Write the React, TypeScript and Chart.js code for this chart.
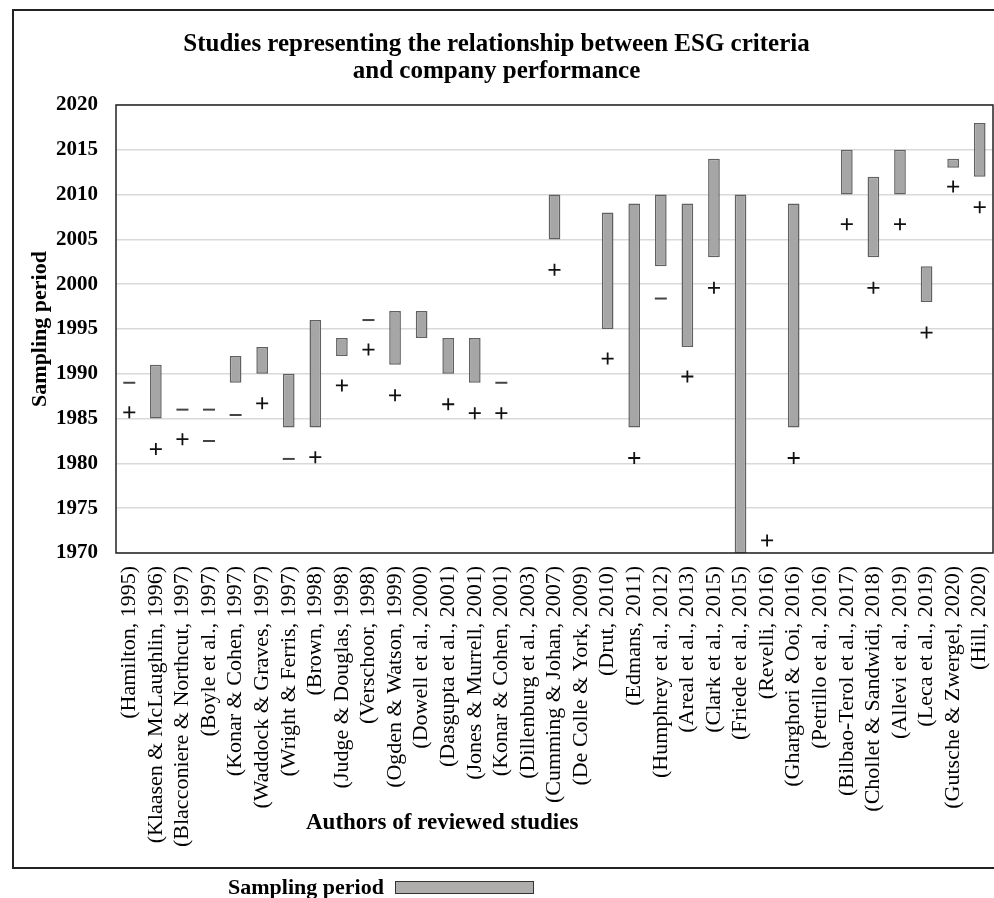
import { useEffect, useRef } from "react";
import { Chart, registerables } from "chart.js";

Chart.register(...registerables);

const SERIF = "'Liberation Serif', 'Times New Roman', serif";

const authors = [
  "(Hamilton, 1995)",
  "(Klaasen & McLaughlin, 1996)",
  "(Blacconiere & Northcut, 1997)",
  "(Boyle et al., 1997)",
  "(Konar & Cohen, 1997)",
  "(Waddock & Graves, 1997)",
  "(Wright & Ferris, 1997)",
  "(Brown, 1998)",
  "(Judge & Douglas, 1998)",
  "(Verschoor, 1998)",
  "(Ogden & Watson, 1999)",
  "(Dowell et al., 2000)",
  "(Dasgupta et al., 2001)",
  "(Jones & Murrell, 2001)",
  "(Konar & Cohen, 2001)",
  "(Dillenburg et al., 2003)",
  "(Cumming & Johan, 2007)",
  "(De Colle & York, 2009)",
  "(Drut, 2010)",
  "(Edmans, 2011)",
  "(Humphrey et al., 2012)",
  "(Areal et al., 2013)",
  "(Clark et al., 2015)",
  "(Friede et al., 2015)",
  "(Revelli, 2016)",
  "(Gharghori & Ooi, 2016)",
  "(Petrillo et al., 2016)",
  "(Bilbao-Terol et al., 2017)",
  "(Chollet & Sandwidi, 2018)",
  "(Allevi et al., 2019)",
  "(Leca et al., 2019)",
  "(Gutsche & Zwergel, 2020)",
  "(Hill, 2020)",
];

// sampling period (first and last year), null = not reported
const periodStart = [null, 1985, null, null, 1989, 1990, 1984, 1984, 1992, null, 1991, 1994, 1990, 1989, null, null, 2005, null, 1995, 1984, 2002, 1993, 2003, 1970, null, 1984, null, 2010, 2003, 2010, 1998, 2013, 2012];
const periodEnd = [null, 1991, null, null, 1992, 1993, 1990, 1996, 1994, null, 1997, 1997, 1994, 1994, null, null, 2010, null, 2008, 2009, 2010, 2009, 2014, 2010, null, 2009, null, 2015, 2012, 2015, 2002, 2014, 2018];

// "+" / "–" result marks
const positiveMarks = [1985.7, 1981.6, 1982.7, null, null, 1986.7, null, 1980.7, 1988.7, 1992.7, 1987.6, null, 1986.6, 1985.6, 1985.6, null, 2001.6, null, 1991.7, 1980.6, null, 1989.7, 1999.6, null, 1971.4, 1980.6, null, 2006.7, 1999.6, 2006.7, 1994.6, 2010.9, 2008.6];
const negativeMarks = [1989, null, 1986, 1986, 1985.4, null, 1980.5, null, null, 1996, null, null, null, null, 1989, null, null, null, null, null, 1998.4, null, null, null, null, null, null, null, null, null, null, null, null];
const negativeMarks2 = [null, null, null, 1982.5, null, null, null, null, null, null, null, null, null, null, null, null, null, null, null, null, null, null, null, null, null, null, null, null, null, null, null, null, null];

const yMin = 1970;
const yMax = 2020;
const yStep = 5;

const framePlugin = {
  id: "frame",
  beforeDraw(chart: any) {
    const { ctx } = chart;
    ctx.save();
    ctx.strokeStyle = "#222";
    ctx.lineWidth = 2;
    ctx.strokeRect(13, 10, 992, 858);
    ctx.restore();
  },
  afterDraw(chart: any) {
    const { ctx, chartArea } = chart;
    ctx.save();
    ctx.strokeStyle = "#222";
    ctx.lineWidth = 1.5;
    ctx.strokeRect(chartArea.left, chartArea.top, chartArea.right - chartArea.left, chartArea.bottom - chartArea.top);
    ctx.font = `bold 23px ${SERIF}`;
    ctx.fillStyle = "#000";
    ctx.textBaseline = "middle";
    ctx.textAlign = "left";
    ctx.fillText("Authors of reviewed studies", chartArea.left + 190, chartArea.bottom + 270);
    ctx.restore();
  },
};

function SamplingChart() {
  const canvasRef = useRef<HTMLCanvasElement>(null);
  const chartRef = useRef<Chart | null>(null);

  useEffect(() => {
    if (!canvasRef.current) return;
    if (chartRef.current) chartRef.current.destroy();
    const ctx = canvasRef.current.getContext("2d");
    if (!ctx) return;

    const markStyle = (style: string, color: string, width: number) => ({
      type: "line" as const,
      showLine: false,
      pointStyle: style,
      pointRadius: 6,
      pointBorderColor: color,
      pointBackgroundColor: color,
      pointBorderWidth: width,
      borderColor: color,
      order: 0,
    });

    chartRef.current = new Chart(ctx, {
      type: "bar",
      data: {
        labels: authors,
        datasets: [
          {
            type: "bar" as const,
            label: "Sampling period",
            data: authors.map((_, i) => (periodStart[i] == null ? null : [periodStart[i], periodEnd[i]])) as any,
            backgroundColor: "#a6a6a6",
            borderColor: "#616161",
            borderWidth: 1.5,
            borderSkipped: false,
            barPercentage: 0.44,
            categoryPercentage: 1,
            order: 1,
          },
          { label: "Positive", data: positiveMarks, ...markStyle("cross", "#111", 1.8) } as any,
          { label: "Negative", data: negativeMarks, ...markStyle("line", "#444", 2) } as any,
          { label: "Negative 2", data: negativeMarks2, ...markStyle("line", "#444", 2) } as any,
        ],
      },
      options: {
        animation: false,
        responsive: true,
        maintainAspectRatio: false,
        layout: { autoPadding: false, padding: { top: 0, left: 0, right: 1, bottom: 0 } },
        plugins: {
          legend: { display: false },
          tooltip: { enabled: false },
          title: {
            display: true,
            text: ["Studies representing the relationship between ESG criteria", "and company performance"],
            color: "#000",
            font: { family: SERIF, size: 25, weight: "bold", lineHeight: 1.08 },
            padding: { top: 31.5, bottom: 19.5 },
          },
        },
        scales: {
          x: {
            offset: true,
            grid: { display: false, drawTicks: false },
            border: { display: false },
            ticks: {
              autoSkip: false,
              minRotation: 90,
              maxRotation: 90,
              padding: 13,
              color: "#000",
              font: { family: SERIF, size: 22 },
            },
            afterFit: (scale: any) => {
              scale.height = 345;
              scale.paddingLeft = 0;
              scale.paddingRight = 0;
            },
          },
          y: {
            min: yMin,
            max: yMax,
            grid: { color: "#d9d9d9", lineWidth: 1.5, drawTicks: false },
            border: { display: false },
            ticks: {
              stepSize: yStep,
              padding: 18,
              color: "#000",
              font: { family: SERIF, size: 21, weight: "bold" },
              callback: (value: any) => String(value),
            },
            title: {
              display: true,
              text: "Sampling period",
              color: "#000",
              font: { family: SERIF, size: 22, weight: "bold" },
              padding: { top: 27, bottom: 0 },
            },
            afterFit: (scale: any) => {
              scale.width = 116;
              scale.paddingTop = 0;
              scale.paddingBottom = 0;
            },
          },
        },
      },
      plugins: [framePlugin],
    });

    return () => {
      if (chartRef.current) chartRef.current.destroy();
      chartRef.current = null;
    };
  }, []);

  return <canvas ref={canvasRef} />;
}

export default function App() {
  return (
    <div style={{ position: "absolute", left: 0, top: 0, width: 994, height: 898, background: "#fff" }}>
      <div style={{ position: "absolute", left: 0, top: 0, width: 994, height: 898 }}>
        <SamplingChart />
      </div>
      <div
        style={{
          position: "absolute",
          left: 228,
          top: 874,
          display: "flex",
          alignItems: "center",
          fontFamily: SERIF,
          fontWeight: "bold",
          fontSize: 22,
          color: "#000",
          lineHeight: "26px",
        }}
      >
        <span>Sampling period</span>
        <span
          style={{
            display: "inline-block",
            width: 137,
            height: 11,
            marginLeft: 11,
            background: "#b0adad",
            border: "1.5px solid #333",
          }}
        />
      </div>
    </div>
  );
}
